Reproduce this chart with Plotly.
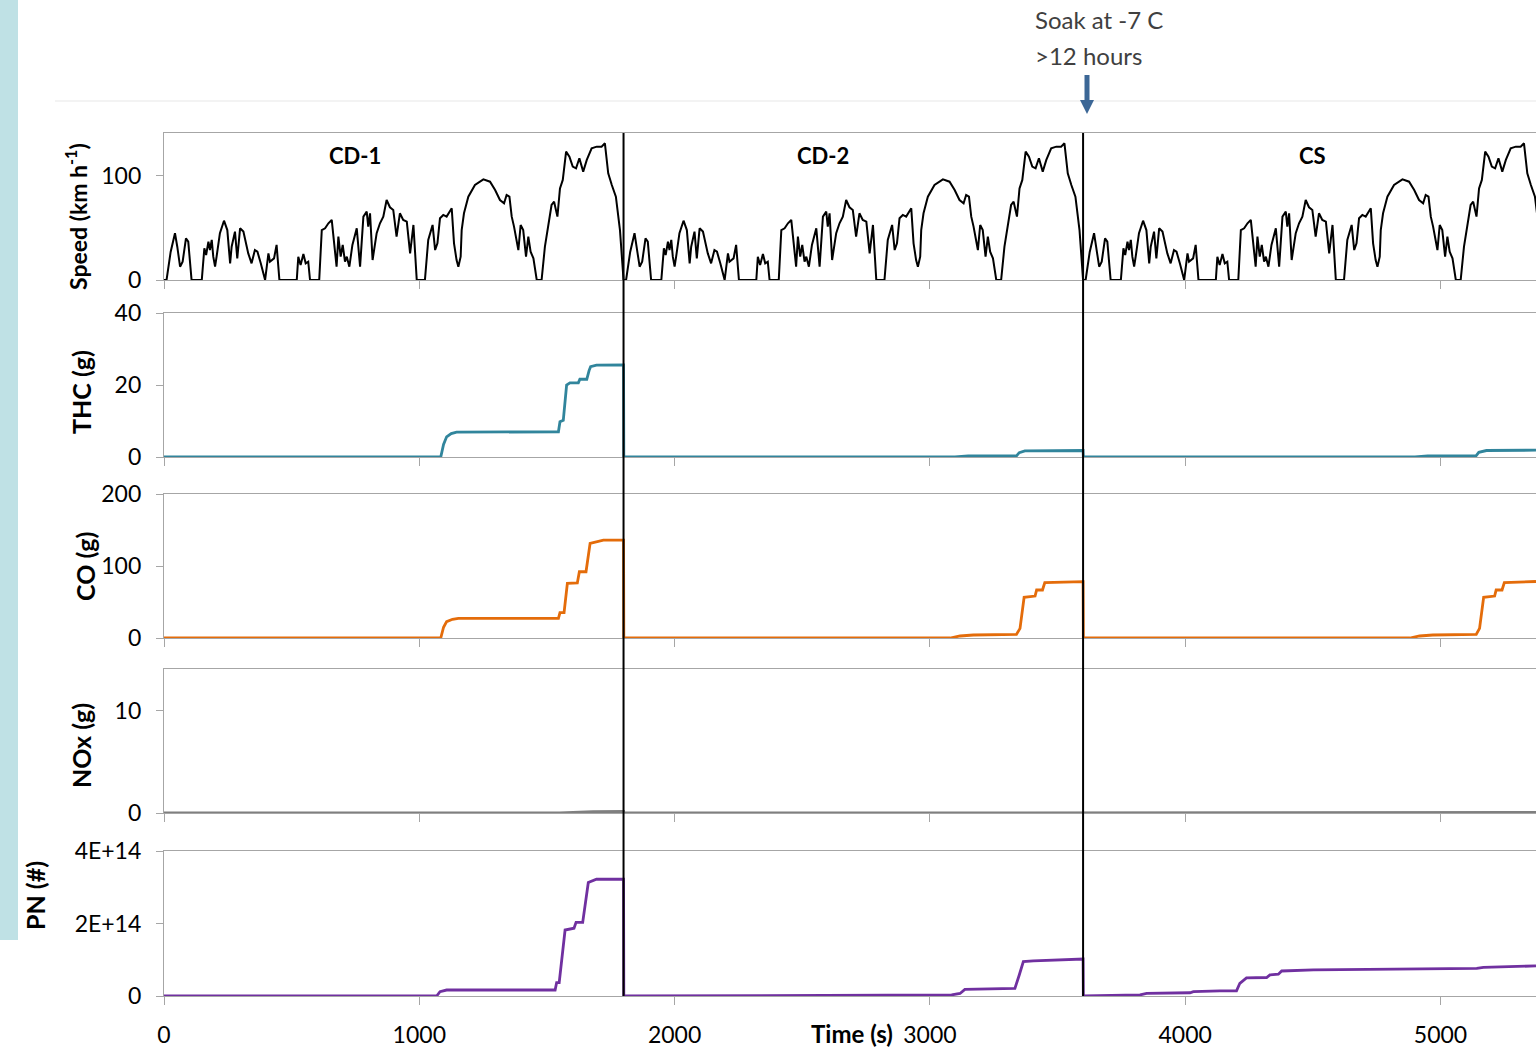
import plotly.graph_objects as go

# ---------------- data ----------------
cycle_offsets = [0, 1800, 3600]

# one WLTC speed trace (km/h), repeated for each cycle
speed_t = [0, 10, 26, 43, 52, 63, 73, 86, 95, 108, 148, 158, 165, 174, 180, 187, 193, 200, 206, 219,
           235, 248, 259, 265, 278, 287, 298, 311, 330, 343, 356, 366, 379, 396, 409, 415, 431, 441, 452, 520,
           526, 535, 546, 555, 565, 572, 608, 618, 631, 644, 657, 666, 676, 683, 692, 700, 709, 716, 726, 738,
           755, 768, 781, 794, 800, 807, 817, 833, 846, 859, 872, 885, 898, 911, 924, 937, 951, 964, 977, 990,
           1022, 1035, 1052, 1062, 1071, 1081, 1094, 1107, 1120, 1127, 1136, 1146, 1153, 1162, 1166, 1175, 1192, 1218, 1251, 1277,
           1297, 1316, 1332, 1342, 1353, 1362, 1371, 1381, 1388, 1397, 1407, 1418, 1427, 1436, 1447, 1460, 1479, 1492, 1505, 1518,
           1528, 1541, 1551, 1562, 1575, 1588, 1601, 1614, 1627, 1642, 1656, 1675, 1695, 1714, 1727, 1740, 1754, 1770, 1786, 1800]
speed_v = [0, 0, 27, 45, 32, 12.8, 17.6, 40, 36.9, 0, 0, 30.4, 24, 36.9, 28.8, 38.5, 22.4, 12.8, 22.4, 45,
           57, 48, 16, 32, 46.5, 20.8, 49.7, 46.5, 25.6, 16, 28.8, 27.2, 16, 0, 25.6, 17.6, 20.8, 33.7, 0, 0,
           22.4, 14.4, 25, 16, 17.6, 0, 0, 48, 49.7, 54.5, 57.7, 38.5, 12.8, 41.7, 22.4, 33.7, 17.6, 22.4, 12.8, 33.7,
           49.7, 12.8, 60.9, 65.7, 51.3, 64.1, 19.2, 45, 54.5, 60.9, 76.9, 69.9, 67.3, 41.7, 64.1, 57.7, 56.1, 25.6, 52.9, 0,
           0, 38.5, 52.9, 28.8, 35.3, 59.3, 62.5, 60.9, 65.7, 68.9, 35.3, 19.2, 12.8, 22.4, 48, 64.1, 80.1, 91.3, 96.8, 94.5,
           86.5, 76.9, 73.7, 81.7, 80.1, 60.9, 51.3, 38.5, 28.8, 52.9, 48, 22.4, 41.7, 27.2, 20.8, 0, 0, 32, 51.3, 72.1,
           75.3, 60.9, 88.1, 96.2, 123.4, 118.6, 109, 107.4, 117, 104.2, 115.4, 126.6, 128.2, 128.2, 131.4, 102.5, 91.3, 80.1, 48, 0]

thc_t = [0, 1084, 1095, 1107, 1125, 1146, 1545, 1551, 1564, 1570, 1577, 1590, 1623, 1629, 1656, 1665, 1671, 1694, 1800, 1801,
         3098, 3150, 3340, 3350, 3372, 3600, 3601, 4900, 4950, 5140, 5150, 5180, 5374]
thc_v = [0, 0, 3.5, 5.6, 6.5, 6.9, 7.0, 9.8, 10.2, 15, 20, 20.6, 20.6, 21.6, 21.6, 24, 25.1, 25.5, 25.6, 0,
         0, 0.3, 0.4, 1.2, 1.7, 1.8, 0, 0, 0.3, 0.4, 1.3, 1.8, 1.9]

co_t = [0, 1084, 1095, 1107, 1130, 1153, 1545, 1551, 1567, 1580, 1619, 1627, 1653, 1669, 1721, 1800, 1801,
        3079, 3118, 3170, 3339, 3353, 3369, 3412, 3418, 3441, 3450, 3600, 3601,
        4880, 4918, 4970, 5140, 5153, 5169, 5212, 5218, 5241, 5250, 5374]
co_v = [0, 0, 15, 22.7, 26, 27.3, 27.3, 35.2, 35.2, 76, 76.5, 92, 92, 131.5, 136, 136, 0,
        0, 2.8, 4.2, 5, 13.4, 56.5, 58.3, 66.7, 66.7, 76.9, 78.2, 0,
        0, 2.8, 4.2, 5, 13.4, 56.5, 58.3, 66.7, 66.7, 76.9, 78.5]

nox_t = [0, 1550, 1680, 1800, 1801, 3350, 3600, 3601, 5150, 5374]
nox_v = [0, 0.02, 0.12, 0.15, 0, 0.03, 0.05, 0, 0.03, 0.05]

pn_t = [0, 1068, 1081, 1107, 1532, 1538, 1548, 1571, 1606, 1614, 1640, 1662, 1694, 1800, 1801,
        3085, 3118, 3137, 3333, 3342, 3350, 3366, 3405, 3600, 3601,
        3823, 3849, 4019, 4032, 4136, 4201, 4214, 4240, 4319, 4332, 4365, 4378, 4502, 5090, 5142, 5168, 5374]
pn_v_e14 = [0, 0, 0.12, 0.165, 0.165, 0.37, 0.37, 1.82, 1.87, 2.03, 2.03, 3.13, 3.22, 3.22, 0,
            0.03, 0.07, 0.18, 0.21, 0.44, 0.58, 0.95, 0.97, 1.02, 0,
            0.03, 0.07, 0.09, 0.12, 0.14, 0.14, 0.35, 0.5, 0.51, 0.58, 0.6, 0.69, 0.72, 0.74, 0.76, 0.79, 0.83]

cycle_labels = ["CD-1", "CD-2", "CS"]
cycle_label_x = [750, 2580, 4500]
x_ticks = [0, 1000, 2000, 3000, 4000, 5000]

# ---------------- layout helpers ----------------
W, H = 1536, 1048
def px(x):
    return x / W
def py(y):
    return 1 - y / H

FONT = "Lato, 'Open Sans', sans-serif"
AXIS_GRAY = "#A6A6A6"
ARROW_BLUE = "#3C6796"

fig = go.Figure()

speed_x, speed_y = [], []
for off in cycle_offsets:
    speed_x += [t + off for t in speed_t]
    speed_y += speed_v

series = [
    (speed_x, speed_y, "#000000", 2.0),
    (thc_t, thc_v, "#31859C", 2.8),
    (co_t, co_v, "#E46C0A", 2.8),
    (nox_t, nox_v, "#7F7F7F", 2.8),
    (pn_t, [v * 1e14 for v in pn_v_e14], "#7030A0", 2.8),
]

panels = [
    # top px, bottom px, range, tickvals, ticktext
    (133, 280, [0, 141.3], [0, 100], ["0", "100"]),
    (313, 457, [0, 40], [0, 20, 40], ["0", "20", "40"]),
    (494, 638, [0, 200], [0, 100, 200], ["0", "100", "200"]),
    (669, 813, [0, 14.1], [0, 10], ["0", "10"]),
    (851, 996, [0, 4e14], [0, 2e14, 4e14], ["0", "2E+14", "4E+14"]),
]

XMAX = (W - 164) / 0.2553

for i, ((xs, ys, col, lw), (top, bot, rng, tv, tt)) in enumerate(zip(series, panels), start=1):
    xa = "x" if i == 1 else f"x{i}"
    ya = "y" if i == 1 else f"y{i}"
    fig.add_trace(go.Scatter(x=xs, y=ys, mode="lines", line=dict(color=col, width=lw),
                             xaxis=xa, yaxis=ya, showlegend=False, hoverinfo="skip"))
    fig.layout[f"xaxis{'' if i == 1 else i}"] = dict(
        domain=[px(164), 1], range=[0, XMAX], anchor=ya, automargin=False,
        showline=True, mirror=True, linecolor=AXIS_GRAY, linewidth=1.2,
        ticks="outside", ticklen=8, tickcolor=AXIS_GRAY, tickvals=x_ticks,
        showticklabels=(i == 5), showgrid=False, zeroline=False,
        tickfont=dict(family=FONT, size=23, color="#000000"), ticklabelstandoff=10,
    )
    fig.layout[f"yaxis{'' if i == 1 else i}"] = dict(
        domain=[py(bot), py(top)], range=rng, anchor=xa, automargin=False,
        showline=True, linecolor=AXIS_GRAY, linewidth=1.2,
        ticks="outside", ticklen=7, tickcolor=AXIS_GRAY,
        tickvals=tv, ticktext=tt, showgrid=False, zeroline=False,
        tickfont=dict(family=FONT, size=23, color="#000000"), ticklabelstandoff=10,
    )

shapes = [
    # left teal band
    dict(type="rect", xref="paper", yref="paper", x0=0, x1=px(18), y0=py(940), y1=1,
         fillcolor="#BFE1E5", line=dict(width=0), layer="below"),
    # faint chart border line
    dict(type="line", xref="paper", yref="paper", x0=px(55), x1=1, y0=py(101), y1=py(101),
         line=dict(color="#EFEFEF", width=1.5), layer="below"),
    # soak arrow: shaft + head
    dict(type="rect", xref="paper", yref="paper", x0=px(1084.5), x1=px(1089.5), y0=py(101), y1=py(75),
         fillcolor=ARROW_BLUE, line=dict(width=0)),
    dict(type="path", xref="paper", yref="paper",
         path=f"M {px(1080)} {py(100)} L {px(1094)} {py(100)} L {px(1087)} {py(114)} Z",
         fillcolor=ARROW_BLUE, line=dict(width=0)),
]
for off in cycle_offsets[1:]:
    shapes.append(dict(type="line", xref="x5", yref="paper", x0=off, x1=off,
                       y0=py(996), y1=py(133), line=dict(color="#000000", width=2)))
fig.update_layout(shapes=shapes)

annotations = []
for lab, lx in zip(cycle_labels, cycle_label_x):
    annotations.append(dict(x=lx, y=py(156), xref="x", yref="paper", text=f"<b>{lab}</b>",
                            xanchor="center", yanchor="middle",
                            showarrow=False, font=dict(family=FONT, size=22, color="#000000")))

ytitles = [
    ("<b>Speed (km h<sup>-1</sup>)</b>", 77, 217, 23),
    ("<b>THC (g)</b>", 81, 392, 25),
    ("<b>CO (g)</b>", 85, 567, 25),
    ("<b>NOx (g)</b>", 81, 746, 25),
    ("<b>PN (#)</b>", 35, 896, 25),
]
for txt, xx, yy, fs in ytitles:
    annotations.append(dict(x=px(xx), y=py(yy), xref="paper", yref="paper", text=txt,
                            xanchor="center", yanchor="middle",
                            textangle=-90, showarrow=False,
                            font=dict(family=FONT, size=fs, color="#000000")))

annotations.append(dict(x=px(852), y=py(1033), xref="paper", yref="paper", text="<b>Time (s)</b>",
                        xanchor="center", yanchor="middle",
                        showarrow=False, font=dict(family=FONT, size=24, color="#000000")))

annotations.append(dict(x=px(1033), y=py(20), xref="paper", yref="paper", text="Soak at -7 C",
                        xanchor="left", yanchor="middle",
                        showarrow=False, font=dict(family=FONT, size=24, color="#404040")))
annotations.append(dict(x=px(1033), y=py(56), xref="paper", yref="paper", text="&gt;12 hours",
                        xanchor="left", yanchor="middle",
                        showarrow=False, font=dict(family=FONT, size=24, color="#404040")))

fig.update_layout(
    template="none",
    annotations=annotations,
    width=W, height=H, autosize=False,
    margin=dict(l=0, r=0, t=0, b=0, pad=0, autoexpand=False),
    paper_bgcolor="white", plot_bgcolor="white",
    font=dict(family=FONT, size=23, color="#000000"),
    showlegend=False,
)

fig.write_html("out.html", config={"displayModeBar": False},
               post_script="document.body.style.margin='0px';document.body.style.overflow='hidden';")
